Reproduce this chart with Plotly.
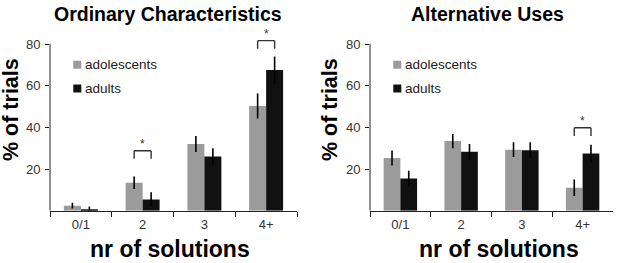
import plotly.graph_objects as go

# ---------------- data ----------------
categories = ["0/1", "2", "3", "4+"]
groups = ["adolescents", "adults"]

oc_adolescents = [2.4, 13.4, 32.0, 50.2]
oc_adolescents_err = [1.4, 3.0, 3.8, 6.0]
oc_adults = [0.6, 5.4, 26.0, 67.5]
oc_adults_err = [1.4, 3.4, 4.0, 6.5]

au_adolescents = [25.3, 33.4, 29.3, 11.0]
au_adolescents_err = [3.6, 3.4, 3.5, 4.0]
au_adults = [15.5, 28.3, 29.0, 27.4]
au_adults_err = [3.7, 3.7, 3.8, 4.3]

oc_sig_cats = ["2", "4+"]
oc_sig_levels = [28.8, 81.6]
au_sig_cats = ["4+"]
au_sig_levels = [39.8]

y_ticks = [20, 40, 60, 80]
panel_titles = ["Ordinary Characteristics", "Alternative Uses"]

# ---------------- layout geometry ----------------
W, H = 629, 263
FONT = "Liberation Sans, Arial, sans-serif"
colors = {"adolescents": "#9b9b9b", "adults": "#111111"}
BARGAP = 0.45
YMAX = 90
y0_px, y80_px = 210.7, 44.0
ppu = (y0_px - y80_px) / 80.0
ytop_px = y0_px - YMAX * ppu
panels_px = [(50, 297), (370, 613)]
title_cx = [167.5, 487.5]
xtitle_cx = [170, 499]
ytitle_cx = [11, 330]


def fx(px):
    return px / W


def fy(py):
    return 1 - py / H


fig = go.Figure()
shapes, annotations = [], []

panels = [
    (oc_adolescents, oc_adolescents_err, oc_adults, oc_adults_err, oc_sig_cats, oc_sig_levels),
    (au_adolescents, au_adolescents_err, au_adults, au_adults_err, au_sig_cats, au_sig_levels),
]

half = (1 - BARGAP) / 4.0
for i, (ado, ado_e, adu, adu_e, sig_c, sig_l) in enumerate(panels):
    xa = "x" if i == 0 else "x2"
    ya = "y" if i == 0 else "y2"
    for name, vals, errs in [("adolescents", ado, ado_e), ("adults", adu, adu_e)]:
        fig.add_trace(go.Bar(
            x=categories, y=vals, name=name, xaxis=xa, yaxis=ya,
            marker=dict(color=colors[name], line=dict(width=0)),
            error_y=dict(type="data", array=errs, visible=True, color="#000000",
                         thickness=1.6, width=0),
            showlegend=False, offsetgroup=name, hoverinfo="skip",
        ))
    # y axis line 0..80
    shapes.append(dict(type="line", xref=xa + " domain", yref=ya, x0=0, x1=0,
                       y0=0, y1=80, line=dict(color="#222222", width=1)))
    # significance brackets
    for c, lvl in zip(sig_c, sig_l):
        k = categories.index(c)
        xl, xr = k - half, k + half
        d = 3.9
        for (a0, b0, a1, b1) in [(xl, lvl - d, xl, lvl), (xl, lvl, xr, lvl), (xr, lvl, xr, lvl - d)]:
            shapes.append(dict(type="line", xref=xa, yref=ya, x0=a0, y0=b0, x1=a1, y1=b1,
                               line=dict(color="#333333", width=1.4)))
        annotations.append(dict(x=k, y=lvl, xref=xa, yref=ya, text="*", showarrow=False,
                                xanchor="center", yanchor="bottom", yshift=-2,
                                font=dict(family=FONT, size=12, color="#333333")))
    xl_px, xr_px = panels_px[i]
    # title
    annotations.append(dict(x=fx(title_cx[i]), y=fy(14), xref="paper", yref="paper",
                            text="<b>%s</b>" % panel_titles[i], showarrow=False,
                            xanchor="center", yanchor="middle",
                            font=dict(family=FONT, size=19.5, color="#000000")))
    # y title
    annotations.append(dict(x=fx(ytitle_cx[i]), y=fy(110), xref="paper", yref="paper",
                            text="<b>% of trials</b>", textangle=-90, showarrow=False,
                            xanchor="center", yanchor="middle",
                            font=dict(family=FONT, size=21.5, color="#000000")))
    # x title
    annotations.append(dict(x=fx(xtitle_cx[i]), y=fy(249), xref="paper", yref="paper",
                            text="<b>nr of solutions</b>", showarrow=False,
                            xanchor="center", yanchor="middle",
                            font=dict(family=FONT, size=23, color="#000000")))
    # legend
    for j, g in enumerate(groups):
        cy = 64.7 + 23.8 * j
        sx0 = xl_px + 23.3
        shapes.append(dict(type="rect", xref="paper", yref="paper",
                           x0=fx(sx0), x1=fx(sx0 + 8), y0=fy(cy + 4), y1=fy(cy - 4),
                           fillcolor=colors[g], line=dict(width=0)))
        annotations.append(dict(x=fx(sx0 + 9.5), y=fy(cy), xref="paper", yref="paper",
                                text=g, showarrow=False, xanchor="left", yanchor="middle",
                                font=dict(family=FONT, size=13.5, color="#222222")))

xcommon = dict(type="category", showline=True, linecolor="#222222", linewidth=1,
               ticks="outside", tickson="boundaries", ticklen=5, tickcolor="#222222",
               tickfont=dict(family=FONT, size=13, color="#333333"), showgrid=False,
               zeroline=False, categoryorder="array", categoryarray=categories,
               ticklabelstandoff=2)
ycommon = dict(range=[0, YMAX], tickvals=y_ticks, ticks="outside", ticklen=4,
               tickcolor="#222222", showline=False, showgrid=False, zeroline=False,
               tickfont=dict(family=FONT, size=13, color="#333333"), ticklabelstandoff=2)

fig.update_layout(
    width=W, height=H, margin=dict(l=0, r=0, t=0, b=0),
    paper_bgcolor="white", plot_bgcolor="white",
    barmode="group", bargap=BARGAP, bargroupgap=0,
    showlegend=False, hovermode=False,
    xaxis=dict(domain=[fx(panels_px[0][0]), fx(panels_px[0][1])], anchor="y", **xcommon),
    xaxis2=dict(domain=[fx(panels_px[1][0]), fx(panels_px[1][1])], anchor="y2", **xcommon),
    yaxis=dict(domain=[fy(y0_px), fy(ytop_px)], anchor="x", **ycommon),
    yaxis2=dict(domain=[fy(y0_px), fy(ytop_px)], anchor="x2", **ycommon),
    shapes=shapes, annotations=annotations,
)

fig.write_html("out.html", config={"displayModeBar": False},
               post_script="document.body.style.margin='0px';")
